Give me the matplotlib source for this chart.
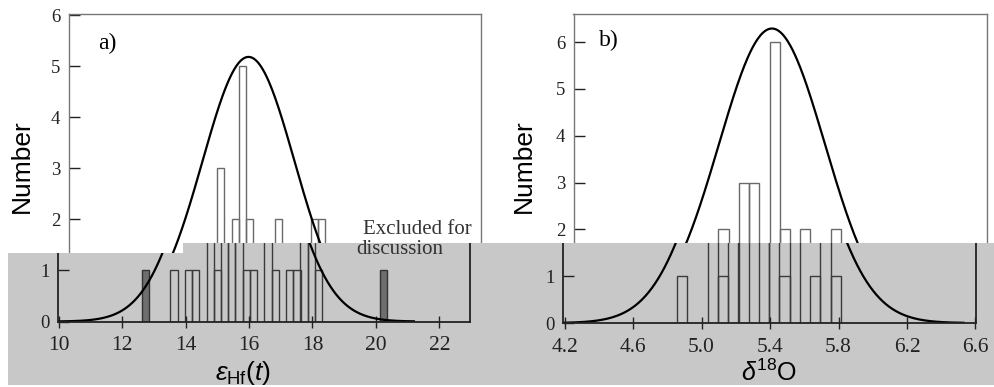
import numpy as np
import matplotlib
matplotlib.use("Agg")
import matplotlib.pyplot as plt
from matplotlib.patches import Polygon

# ---------------- data ----------------
hf_bin_left = [13.52, 13.98, 14.20, 14.66, 14.89, 15.12, 15.34, 15.57, 15.80,
               16.03, 16.48, 16.71, 17.17, 17.40, 17.62, 17.85, 18.08]
hf_counts = [1, 1, 1, 3, 1, 2, 5, 2, 1, 1, 2, 1, 1, 1, 2, 2, 1]
hf_excl_left = [12.61, 20.13]
hf_excl_counts = [1, 1]
hf_bin_width = 0.228
hf_fit_mean, hf_fit_sigma, hf_fit_peak = 15.65, 1.45, 5.18
hf_fit_range = (10.0, 21.2)
hf_xticks = [10, 12, 14, 16, 18, 20, 22]
hf_yticks = [0, 1, 2, 3, 4, 5, 6]

o_bin_left = [4.858, 5.037, 5.097, 5.156, 5.216, 5.336, 5.395, 5.455, 5.515,
              5.634, 5.694, 5.754]
o_counts = [1, 2, 1, 3, 3, 6, 2, 1, 2, 1, 2, 1]
o_bin_width = 0.0597
o_fit_mean, o_fit_sigma, o_fit_peak = 5.35, 0.31, 6.29
o_fit_range = (4.2, 6.53)
o_xticks = [4.2, 4.6, 5.0, 5.4, 5.8, 6.2, 6.6]
o_yticks = [0, 1, 2, 3, 4, 5, 6]

# ---------------- style ----------------
plt.rcParams["font.family"] = ["Liberation Serif", "DejaVu Serif"]
plt.rcParams["mathtext.fontset"] = "custom"
plt.rcParams["mathtext.rm"] = "Liberation Sans"
plt.rcParams["mathtext.it"] = "Liberation Sans:italic"
plt.rcParams["mathtext.bf"] = "Liberation Sans:bold"

W, H = 994, 387
fig = plt.figure(figsize=(W / 100, H / 100), dpi=100)
fig.patch.set_facecolor("white")


def rect(left, right, top, bottom):
    return [left / W, 1 - bottom / H, (right - left) / W, (bottom - top) / H]


def fpt(x, y):
    return (x / W, 1 - y / H)


grey_verts = [fpt(8, 253), fpt(183, 253), fpt(183, 243), fpt(994, 243),
              fpt(994, 385), fpt(8, 385)]

GREY = "#c8c8c8"
grey_patch = Polygon(grey_verts, closed=True, transform=fig.transFigure,
                     facecolor=GREY, edgecolor="none", zorder=2)
fig.add_artist(grey_patch)


def new_clip():
    return Polygon(grey_verts, closed=True, transform=fig.transFigure)


def gauss(x, mu, sig, peak):
    return peak * np.exp(-0.5 * ((x - mu) / sig) ** 2)


def draw_panel(ax, lefts, counts, width, excl_l, excl_c, mu, sig, peak, frange,
               xlim, ylim, xticks, yticks, role):
    edge = "#6a6a6a" if role == "A" else "#3a3a3a"
    ax.bar(lefts, counts, width=width, align="edge", fill=False,
           edgecolor=edge, linewidth=1.0)
    if excl_l:
        ax.bar(excl_l, excl_c, width=width, align="edge", facecolor="#6e6e6e",
               edgecolor="#333333", linewidth=1.0)
    xs = np.linspace(frange[0], frange[1], 500)
    ax.plot(xs, gauss(xs, mu, sig, peak), color="black", linewidth=1.6)
    ax.set_xlim(*xlim)
    ax.set_ylim(*ylim)
    ax.set_xticks(xticks)
    ax.set_facecolor("none")
    spc = "#777777" if role == "A" else "#222222"
    for s in ax.spines.values():
        s.set_color(spc)
        s.set_linewidth(1.0 if role == "A" else 1.3)
    ax.tick_params(axis="y", direction="in", length=8, width=1.0,
                   labelsize=13.5, pad=6, colors="#222222", right=False)
    ax.tick_params(axis="x", direction="inout", length=8, width=1.0,
                   labelsize=15.5, pad=6.5, colors="#222222", top=False)
    if role == "A":
        ax.set_yticks(yticks)
        ax.tick_params(axis="x", labelbottom=False)
    else:
        ax.set_yticks([0, 1])
        ax.spines["top"].set_visible(False)
        for art in list(ax.patches) + list(ax.lines):
            art.set_clip_path(new_clip())
        for s in ax.spines.values():
            s.set_clip_on(True)
            s.set_clip_path(new_clip())
    ax.set_xticklabels([("%g" % t) if isinstance(t, int) else ("%.1f" % t)
                        for t in xticks])


# panel a
hf_xlim = (9.98, 22.97)
hf_ylim = (0, 6.02)
axA1 = fig.add_axes(rect(68.8, 480.5, 14, 321.5), zorder=1)
axB1 = fig.add_axes(rect(58.3, 470.0, 14, 321.5), zorder=3)
for ax, role in ((axA1, "A"), (axB1, "B")):
    draw_panel(ax, hf_bin_left, hf_counts, hf_bin_width, hf_excl_left,
               hf_excl_counts, hf_fit_mean, hf_fit_sigma, hf_fit_peak,
               hf_fit_range, hf_xlim, hf_ylim, hf_xticks, hf_yticks, role)
axA1.text(10.9, 5.45, "a)", fontsize=17, ha="left", va="center")

# panel b
o_xlim = (4.191, 6.603)
o_ylim = (0, 6.6)
axA2 = fig.add_axes(rect(573.5, 986.5, 14, 323), zorder=1)
axB2 = fig.add_axes(rect(563.0, 976.0, 14, 323), zorder=3)
for ax, role in ((axA2, "A"), (axB2, "B")):
    draw_panel(ax, o_bin_left, o_counts, o_bin_width, [], [],
               o_fit_mean, o_fit_sigma, o_fit_peak, o_fit_range,
               o_xlim, o_ylim, o_xticks, o_yticks, role)
axA2.text(4.34, 6.04, "b)", fontsize=17, ha="left", va="center")

# y labels
for xc in (22, 524):
    fig.text(xc / W, 1 - 166 / H, "Number", rotation=90, ha="center",
             va="center", fontsize=19, family="Liberation Sans", zorder=5)

# x labels
fig.text(243.5 / W, 1 - 380 / H, r"$\varepsilon_{\rm Hf}(t)$", ha="center",
         va="baseline", fontsize=19, zorder=5)
fig.text(769 / W, 1 - 381 / H, r"$\delta^{18}$O", ha="center",
         va="baseline", fontsize=18, family="Liberation Sans", zorder=5)

# annotation
fig.text(417 / W, 1 - 229 / H, "Excluded for", ha="center", va="center",
         fontsize=15, color="#333333", zorder=5)
fig.text(400 / W, 1 - 250 / H, "discussion", ha="center", va="center",
         fontsize=15, color="#333333", zorder=5)

fig.savefig("out.png", dpi=100, facecolor="white")
